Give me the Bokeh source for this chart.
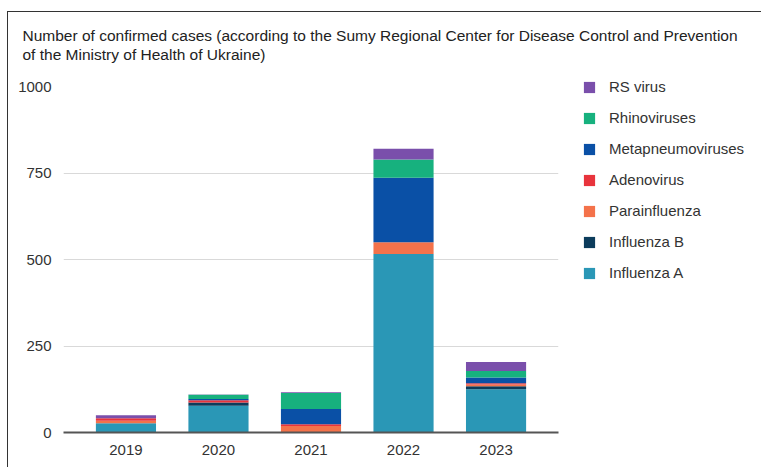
from bokeh.plotting import figure
from bokeh.models import FactorRange, Legend, LegendItem, Title, ColumnDataSource
from bokeh.embed import file_html
from bokeh.resources import INLINE

years = ["2019", "2020", "2021", "2022", "2023"]
influenza_a = [27, 77, 0, 516, 125]
influenza_b = [0, 10, 0, 0, 9]
parainfluenza = [7, 0, 19, 34, 5]
adenovirus = [7, 6, 5, 0, 3]
metapneumoviruses = [0, 4, 44, 186, 17]
rhinoviruses = [0, 12, 46, 53, 19]
rs_virus = [9, 1, 2, 31, 26]

series_names = ["Influenza A", "Influenza B", "Parainfluenza", "Adenovirus",
                "Metapneumoviruses", "Rhinoviruses", "RS virus"]
series_values = [influenza_a, influenza_b, parainfluenza, adenovirus,
                 metapneumoviruses, rhinoviruses, rs_virus]
colors = ["#2a97b6", "#0c3c5c", "#f4724a", "#e8343c", "#0a50a6", "#17b17e", "#7a4fab"]
y_ticks = [0, 250, 500, 750, 1000]
title_lines = ["Number of confirmed cases (according to the Sumy Regional Center for Disease Control and Prevention",
               "of the Ministry of Health of Ukraine)"]

data = {"year": years}
for n, v in zip(series_names, series_values):
    data[n] = v
source = ColumnDataSource(data)

FONT = "Liberation Sans"
FS = "15px"

p = figure(frame_width=495, frame_height=346,
           x_range=FactorRange(factors=years, range_padding=0.07),
           y_range=(0, 1000), output_backend="svg", toolbar_location=None, title=None,
           min_border_left=63, min_border_right=203, min_border_top=86, min_border_bottom=35)
p.styles = {"background": "linear-gradient(#333,#333) 7px 11px / 1px 456px no-repeat, "
                          "linear-gradient(#333,#333) 7px 11px / 754px 1px no-repeat, white"}
p.outline_line_color = None
p.background_fill_color = "white"
p.border_fill_color = None

rends = p.vbar_stack(series_names, x="year", width=0.65, color=colors, source=source,
                     line_color=None)

p.xgrid.grid_line_color = None
p.ygrid.grid_line_color = "#d9d9d9"
p.ygrid.grid_line_width = 1
p.yaxis.ticker = y_ticks
p.yaxis.axis_line_color = None
p.yaxis.major_tick_line_color = None
p.yaxis.minor_tick_line_color = None
p.yaxis.major_label_standoff = 6
p.yaxis.major_label_text_font = FONT
p.yaxis.major_label_text_font_size = FS
p.yaxis.major_label_text_color = "#333333"

p.xaxis.axis_line_color = "#555555"
p.xaxis.axis_line_width = 2
p.xaxis.major_tick_line_color = None
p.xaxis.minor_tick_line_color = None
p.xaxis.major_label_standoff = 6
p.xaxis.major_label_text_font = FONT
p.xaxis.major_label_text_font_size = FS
p.xaxis.major_label_text_color = "#333333"

items = [LegendItem(label=n, renderers=[r]) for n, r in zip(series_names, rends)][::-1]
legend = Legend(items=items, location=(24, 151), orientation="vertical",
                glyph_width=14, glyph_height=14, label_height=14, label_width=10,
                spacing=14, padding=0, margin=0, label_standoff=13,
                border_line_color=None, background_fill_alpha=0,
                label_text_font=FONT, label_text_font_size=FS,
                label_text_color="#333333", click_policy="none")
p.add_layout(legend, "right")

p.add_layout(Title(text=title_lines[0] + "\n" + title_lines[1], align="left", offset=-41,
                   standoff=46, text_font=FONT, text_font_size="15.5px",
                   text_font_style="normal", text_line_height=1.15,
                   text_color="#222222"), "above")

open("out.html", "w").write(file_html(p, INLINE))
